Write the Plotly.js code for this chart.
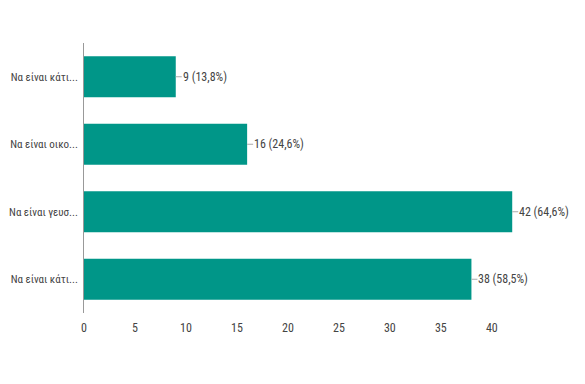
<!DOCTYPE html>
<html>
<head>
<meta charset="utf-8">
<script src="https://cdn.plot.ly/plotly-3.0.1.min.js"></script>
<style>html,body{margin:0;padding:0;background:#fff;}#chart{width:585px;height:384px;}</style>
</head>
<body>
<div id="chart"></div>
<script>
const categories = ["Να είναι κάτι...", "Να είναι οικο...", "Να είναι γευσ...", "Να είναι κάτι..."];
const values = [9, 16, 42, 38];
const percents = ["13,8%", "24,6%", "64,6%", "58,5%"];
const xTicks = [0, 5, 10, 15, 20, 25, 30, 35, 40];

const positions = categories.map((c, i) => i);
const fontFam = "'Liberation Sans Narrow', 'Roboto Condensed', Roboto, sans-serif";

const trace = {
  type: 'bar',
  orientation: 'h',
  x: values,
  y: positions,
  marker: {color: '#009688'},
  hoverinfo: 'none'
};

const annotations = values.map((v, i) => ({
  x: v, y: positions[i], xref: 'x', yref: 'y',
  text: v + ' (' + percents[i] + ')',
  showarrow: true, arrowhead: 0, arrowwidth: 1, arrowcolor: '#aaa',
  ax: 6, ay: 0, xanchor: 'left', borderpad: 0,
  font: {family: fontFam, size: 12, color: '#444'}
}));

const layout = {
  width: 585, height: 384,
  margin: {l: 84, r: 32, t: 43, b: 71},
  paper_bgcolor: '#fff', plot_bgcolor: '#fff',
  showlegend: false,
  bargap: 0.39,
  xaxis: {
    range: [0, 46], tickvals: xTicks, ticktext: xTicks.map(String),
    showgrid: false, zeroline: false, showline: false,
    tickfont: {family: fontFam, size: 12, color: '#444'},
    ticks: '', ticklabelstandoff: 6
  },
  yaxis: {
    range: [3.5, -0.5], tickvals: positions, ticktext: categories,
    showgrid: false, zeroline: false, showline: true, linecolor: '#999', linewidth: 1,
    tickfont: {family: fontFam, size: 11, color: '#444'},
    ticks: '', ticklabelstandoff: 3
  },
  annotations: annotations
};

Plotly.newPlot('chart', [trace], layout, {displayModeBar: false, staticPlot: true});
</script>
</body>
</html>
